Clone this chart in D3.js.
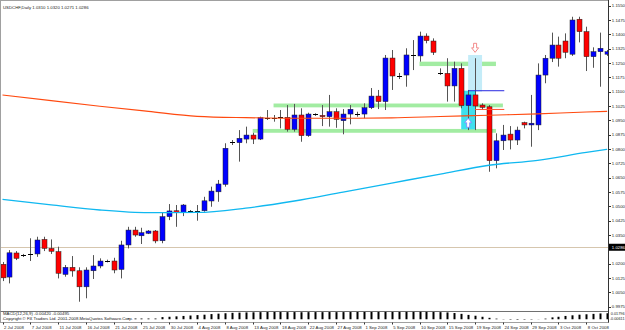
<!DOCTYPE html>
<html lang="en">
<head>
<meta charset="UTF-8" />
<title>USDCHF Daily</title>
<script src="https://cdn.jsdelivr.net/npm/d3@7"></script>
<style>
  body { margin: 0; background: #fff; }
  svg { display: block; font-family: "Liberation Sans", Arial, sans-serif; }
  .lbl { font-size: 4.3px; fill: #222; }
  .small { font-size: 3.8px; fill: #222; }
</style>
</head>
<body>
<svg id="chart" width="625" height="330"></svg>
<script>
// daily bars, 2 Jul 2008 .. 13 Oct 2008 (Sunday bars included)
var barOpen  = [1.0197,1.0130,1.0256,1.0244,1.0251,1.0251,1.0327,1.0280,1.0263,1.0144,1.0181,1.0163,1.0079,1.0163,1.0188,1.0214,1.0214,1.0170,1.0298,1.0376,1.0346,1.0359,1.0371,1.0320,1.0446,1.0477,1.0469,1.0477,1.0477,1.0477,1.0528,1.0576,1.0615,1.0835,1.0833,1.0852,1.0873,1.0852,1.0964,1.0961,1.0966,1.0966,1.0903,1.0978,1.0870,1.0982,1.0976,1.0969,1.0995,1.0948,1.0983,1.0983,1.0983,1.1016,1.1077,1.1048,1.1276,1.1182,1.1187,1.1292,1.1287,1.1391,1.1365,1.1199,1.1196,1.1130,1.1222,1.1027,1.1083,1.1030,1.1021,1.0739,1.0843,1.0878,1.0847,1.0938,1.0926,1.0926,1.1187,1.1275,1.1344,1.1365,1.1296,1.1479,1.1414,1.1283,1.1309,1.1296];
var barHigh  = [1.0209,1.0271,1.0266,1.0251,1.0333,1.0341,1.0341,1.0327,1.0289,1.0193,1.0240,1.0181,1.0181,1.0245,1.0228,1.0221,1.0231,1.0320,1.0393,1.0393,1.0388,1.0376,1.0376,1.0469,1.0512,1.0507,1.0512,1.0481,1.0507,1.0550,1.0603,1.0638,1.0830,1.0847,1.0899,1.0917,1.0885,1.0969,1.1004,1.0978,1.1004,1.1030,1.1036,1.1013,1.0990,1.0987,1.1030,1.1083,1.1013,1.1009,1.1030,1.0995,1.1039,1.1119,1.1109,1.1292,1.1318,1.1198,1.1327,1.1370,1.1414,1.1405,1.1379,1.1222,1.1275,1.1257,1.1248,1.1109,1.1275,1.1039,1.1030,1.0882,1.0926,1.0920,1.0917,1.0943,1.1083,1.1248,1.1292,1.1409,1.1388,1.1405,1.1492,1.1492,1.1440,1.1332,1.1409,1.1318];
var barLow   = [1.0109,1.0097,1.0219,1.0235,1.0214,1.0236,1.0266,1.0251,1.0123,1.0132,1.0132,1.0001,1.0019,1.0120,1.0176,1.0207,1.0150,1.0123,1.0280,1.0341,1.0303,1.0355,1.0307,1.0307,1.0428,1.0393,1.0449,1.0474,1.0425,1.0472,1.0498,1.0524,1.0603,1.0821,1.0734,1.0830,1.0826,1.0847,1.0952,1.0943,1.0908,1.0891,1.0891,1.0838,1.0864,1.0973,1.0920,1.0917,1.0911,1.0877,1.0929,1.0969,1.0961,1.1009,1.1009,1.1004,1.1109,1.1166,1.1126,1.1213,1.1257,1.1353,1.1292,1.1187,1.1048,1.1048,1.1013,1.0899,1.0899,1.1004,1.0681,1.0699,1.0795,1.0798,1.0821,1.0908,1.0812,1.0899,1.1144,1.1255,1.1231,1.1275,1.1287,1.1358,1.1208,1.1225,1.1126,1.1287];
var barClose = [1.0126,1.0257,1.0228,1.0244,1.0251,1.0324,1.0280,1.0265,1.0150,1.0181,1.0162,1.0079,1.0167,1.0188,1.0214,1.0214,1.0167,1.0298,1.0376,1.0350,1.0362,1.0371,1.0319,1.0446,1.0476,1.0469,1.0507,1.0477,1.0477,1.0529,1.0580,1.0617,1.0804,1.0835,1.0856,1.0873,1.0852,1.0964,1.0964,1.0961,1.0966,1.0903,1.0978,1.0870,1.0983,1.0982,1.0969,1.0995,1.0955,1.0983,1.1008,1.0983,1.1016,1.1077,1.1048,1.1276,1.1182,1.1182,1.1292,1.1292,1.1391,1.1367,1.1306,1.1199,1.1130,1.1222,1.1027,1.1083,1.1025,1.1018,1.0739,1.0843,1.0873,1.0847,1.0899,1.0926,1.0935,1.1187,1.1275,1.1344,1.1275,1.1306,1.1475,1.1414,1.1283,1.1309,1.1327,1.1309];

var dateLabels = ["2 Jul 2008","7 Jul 2008","11 Jul 2008","16 Jul 2008","21 Jul 2008","25 Jul 2008","30 Jul 2008","4 Aug 2008","8 Aug 2008","13 Aug 2008","18 Aug 2008","22 Aug 2008","27 Aug 2008","1 Sep 2008","5 Sep 2008","10 Sep 2008","15 Sep 2008","19 Sep 2008","24 Sep 2008","29 Sep 2008","3 Oct 2008","8 Oct 2008"];
// 1.0275 sits under the bid label, so it is not listed
var priceTicks = [1.1550,1.1475,1.1400,1.1325,1.1250,1.1175,1.1100,1.1025,1.0950,1.0875,1.0800,1.0725,1.0650,1.0575,1.0500,1.0425,1.0350,1.0200,1.0125,1.0050,0.9975];
var bidPrice = 1.0286;

// moving averages, read at every 7th bar
var maIdx  = [0,7,14,21,28,35,42,49,56,63,70,77,84,87];
var maSlow = [1.1083,1.1053,1.1024,1.0997,1.0971,1.0964,1.0961,1.0961,1.0963,1.0970,1.0977,1.0984,1.0994,1.0997];
var maFast = [1.0537,1.0508,1.0481,1.0467,1.0468,1.0491,1.0528,1.0575,1.0622,1.0669,1.0715,1.0741,1.0782,1.0798];

var macdHist = [0.0003,0.0003,0.0003,0.0003,0.0003,0.0003,0.0003,0.0003,0.0003,0.0003,
  0.0003,0.0003,0.0003,0.0003,0.0003,0.0003,0.0003,0.0003,
  0.0018,0.0018,0.0018,0.0018,0.0018,
  0.0052,0.0060,0.0070,0.0080,0.0090,0.0100,0.0110,
  0.0125,0.0135,0.0145,0.0155,0.0160,0.0165,0.0168,0.0172,
  0.0174,0.0175,0.0174,0.0172,0.0173,0.0170,0.0172,0.0173,0.0172,0.0174,0.0172,0.0173,0.0174,0.0175,0.0176,0.0175,0.0177,0.0178,0.0176,0.0177,0.0178,0.0178,
  0.0180,0.0178,0.0176,0.0172,0.0165,0.0150,0.0130,0.0105,0.0085,0.0060,0.0035,0.0015,
  -0.0005,-0.0010,-0.0012,-0.0010,-0.0008,-0.0003,
  0.0015,0.0045,0.0060,0.0080,0.0095,0.0110,0.0120,0.0130,0.0140,0.0145];
var macdMax = 0.01796, macdMin = -0.00611;

// drawn objects: [fromBar, toBar, lowPrice, highPrice]
var greenZones = [[39,72,1.1018,1.1038],[36,71,1.0885,1.0905],[60,71,1.1234,1.1257]];
var paleBox = [67,69,1.1100,1.1292];
var cyanBox = [66,68,1.0903,1.1105];
var blueLine = [67,72.2,1.1105];
var redLine = [68,72.2,1.1007];
var downArrow = [68,1.1353];
var upArrow = [67,1.0961];

var svg = d3.select("#chart");
var x = d3.scaleLinear().domain([0, 84]).range([2.5, 586.3]);
var y = d3.scaleLinear().domain([0.9975, 1.1475]).range([306.7, 20]);
var ym = d3.scaleLinear().domain([macdMin, macdMax]).range([321.8, 311.8]);
var px = function(i) { return Math.round(x(i)); };

svg.append("defs").append("clipPath").attr("id", "main")
  .append("rect").attr("x", 1).attr("y", 1).attr("width", 607).attr("height", 310);

svg.append("rect").attr("x", 0.5).attr("y", 0.5).attr("width", 608).attr("height", 322)
  .attr("fill", "#fff").attr("stroke", "#a0a0a0");

var g = svg.append("g").attr("clip-path", "url(#main)");

// background objects
g.append("line").attr("x1", 1).attr("x2", 608)
  .attr("y1", Math.round(y(bidPrice)) + 0.5).attr("y2", Math.round(y(bidPrice)) + 0.5)
  .attr("stroke", "#d6c6ae");

g.selectAll(".zone").data(greenZones).enter().append("rect")
  .attr("x", d => x(d[0])).attr("width", d => x(d[1]) - x(d[0]))
  .attr("y", d => y(d[3])).attr("height", d => y(d[2]) - y(d[3]))
  .attr("fill", "#a2eca2");

g.append("rect").attr("x", x(paleBox[0])).attr("width", x(paleBox[1]) - x(paleBox[0]))
  .attr("y", y(paleBox[3])).attr("height", y(paleBox[2]) - y(paleBox[3]))
  .attr("fill", "#c4ecf8");
g.append("rect").attr("x", x(cyanBox[0])).attr("width", x(cyanBox[1]) - x(cyanBox[0]))
  .attr("y", y(cyanBox[3])).attr("height", y(cyanBox[2]) - y(cyanBox[3]))
  .attr("fill", "#3ee0ee");

// candles
var bars = d3.range(barOpen.length);
g.selectAll(".wick").data(bars).enter().append("line")
  .attr("x1", i => px(i) + 0.5).attr("x2", i => px(i) + 0.5)
  .attr("y1", i => y(barHigh[i])).attr("y2", i => y(barLow[i]))
  .attr("stroke", "#555").attr("stroke-width", 1);

g.selectAll(".body").data(bars.filter(i => barOpen[i] !== barClose[i])).enter().append("rect")
  .attr("x", i => px(i) - 2).attr("width", 5)
  .attr("y", i => y(Math.max(barOpen[i], barClose[i])))
  .attr("height", i => Math.max(1, Math.abs(y(barOpen[i]) - y(barClose[i]))))
  .attr("fill", i => barClose[i] > barOpen[i] ? "#0000ff" : "#ff0000")
  .attr("stroke", "#202020").attr("stroke-width", 0.5);

g.selectAll(".doji").data(bars.filter(i => barOpen[i] === barClose[i])).enter().append("line")
  .attr("x1", i => px(i) - 2).attr("x2", i => px(i) + 3)
  .attr("y1", i => Math.round(y(barOpen[i])) + 0.5).attr("y2", i => Math.round(y(barOpen[i])) + 0.5)
  .attr("stroke", "#000");

// moving averages
var maLine = function(vals) {
  return d3.line().x((d, k) => x(maIdx[k])).y(d => y(d)).curve(d3.curveMonotoneX)(vals);
};
g.append("path").attr("d", maLine(maSlow)).attr("fill", "none").attr("stroke", "#ff4a10").attr("stroke-width", 1.1);
g.append("path").attr("d", maLine(maFast)).attr("fill", "none").attr("stroke", "#10b8f0").attr("stroke-width", 1.3);

// trend lines and arrows
g.append("line").attr("x1", x(blueLine[0])).attr("x2", x(blueLine[1]))
  .attr("y1", y(blueLine[2])).attr("y2", y(blueLine[2])).attr("stroke", "#2828e0");
g.append("line").attr("x1", x(redLine[0])).attr("x2", x(redLine[1]))
  .attr("y1", y(redLine[2])).attr("y2", y(redLine[2])).attr("stroke", "#ff5030");

g.append("path").attr("transform", "translate(" + x(downArrow[0]) + "," + y(downArrow[1]) + ")")
  .attr("d", "M-1.5,0H1.5V4.5H3.5L0,9L-3.5,4.5H-1.5Z")
  .attr("fill", "#fff").attr("stroke", "#f07070").attr("stroke-width", 0.8);
g.append("path").attr("transform", "translate(" + x(upArrow[0]) + "," + y(upArrow[1]) + ")")
  .attr("d", "M0,0L3.5,4.5H1.5V9H-1.5V4.5H-3.5Z")
  .attr("fill", "#fff").attr("stroke", "#8080ff").attr("stroke-width", 0.8);

svg.append("text").attr("class", "lbl").attr("x", 3).attr("y", 8.5)
  .text("USDCHF,Daily  1.0310 1.0320 1.0271 1.0286");

// MACD window
svg.append("line").attr("x1", 0.5).attr("x2", 608.5).attr("y1", 311.5).attr("y2", 311.5).attr("stroke", "#707070");
svg.selectAll(".macd").data(bars).enter().append("rect")
  .attr("x", i => px(i) - 0.5).attr("width", 2)
  .attr("y", i => Math.min(ym(0), ym(macdHist[i])))
  .attr("height", i => Math.abs(ym(0) - ym(macdHist[i])))
  .attr("fill", "#000");
svg.append("text").attr("class", "lbl").attr("x", 3).attr("y", 315.3)
  .text("MACD(12,26,9) -0.00420 -0.00495");
svg.append("text").attr("class", "lbl").attr("x", 3).attr("y", 319.5)
  .text("Copyright \u00a9 FX Traders Ltd. 2001-2008 MetaQuotes Software Corp.");
svg.append("rect").attr("x", 609).attr("y", 0).attr("width", 16).attr("height", 330).attr("fill", "#fff");

// price axis
svg.append("line").attr("x1", 608.5).attr("x2", 608.5).attr("y1", 0).attr("y2", 322.5).attr("stroke", "#333");
svg.selectAll(".ptick").data(priceTicks).enter().append("line")
  .attr("x1", 608.5).attr("x2", 611).attr("y1", d => Math.round(y(d)) + 0.5).attr("y2", d => Math.round(y(d)) + 0.5)
  .attr("stroke", "#333");
svg.selectAll(".plbl").data(priceTicks).enter().append("text").attr("class", "lbl")
  .attr("x", 611.8).attr("y", d => y(d) + 1.6).text(d => d.toFixed(4));

svg.append("rect").attr("x", 609).attr("y", y(bidPrice) - 3.5).attr("width", 16).attr("height", 7).attr("fill", "#000");
svg.append("text").attr("class", "lbl").attr("x", 611.8).attr("y", y(bidPrice) + 1.6)
  .style("fill", "#fff").text(bidPrice.toFixed(4));

svg.append("text").attr("class", "small").attr("x", 610.8).attr("y", 315).text(macdMax.toFixed(5));
svg.append("text").attr("class", "small").attr("x", 609.8).attr("y", 320.3).text(macdMin.toFixed(5));

// date axis
svg.selectAll(".dtick").data(dateLabels).enter().append("line")
  .attr("x1", (d, k) => px(k * 4) + 0.5).attr("x2", (d, k) => px(k * 4) + 0.5)
  .attr("y1", 322.5).attr("y2", 324.5).attr("stroke", "#333");
svg.selectAll(".dlbl").data(dateLabels).enter().append("text").attr("class", "lbl")
  .attr("x", (d, k) => x(k * 4) + 1.5).attr("y", 328.5).text(d => d);
</script>
</body>
</html>
